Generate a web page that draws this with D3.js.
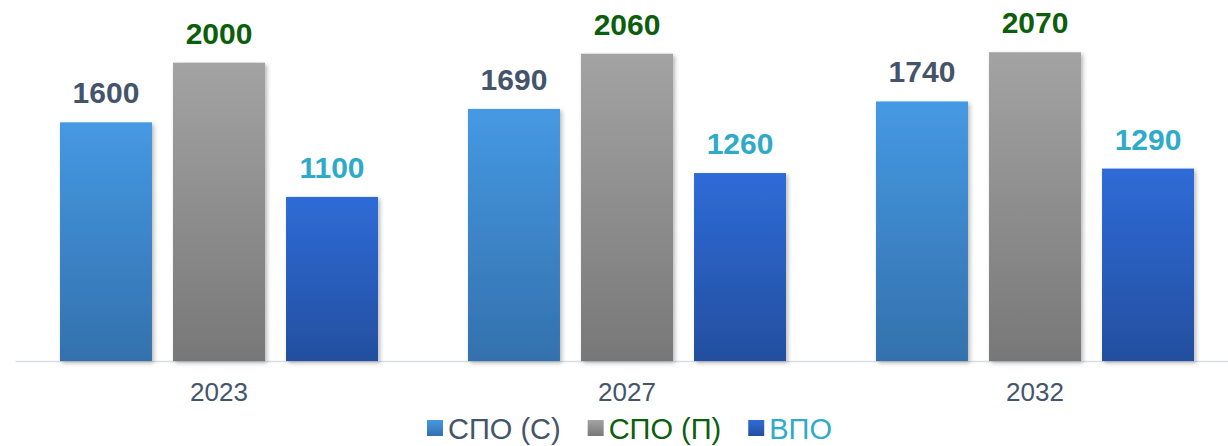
<!DOCTYPE html>
<html>
<head>
<meta charset="utf-8">
<script src="https://cdn.jsdelivr.net/npm/d3@7"></script>
<style>
    body { margin: 0; background: #fff; }
    #chart { width: 1228px; height: 446px; }
    text { font-family: "Liberation Sans", Arial, sans-serif; }
</style>
</head>
<body>
<div id="chart"></div>
<script>
// Data
const years = ["2023", "2027", "2032"];
const seriesNames = ["СПО (С)", "СПО (П)", "ВПО"];
const spoC = [1600, 1690, 1740];
const spoP = [2000, 2060, 2070];
const vpo = [1100, 1260, 1290];

// Styles
const gradients = [
    ["#4599e3", "#3371ad"],
    ["#a3a3a3", "#787878"],
    ["#2f6bd7", "#234f9f"]
];
const labelColors = ["#44546a", "#0b5e0b", "#2faac8"];

const width = 1228, height = 446;
const margin = { top: 3, right: -11, bottom: 85, left: 15 };

const svg = d3.select("#chart").append("svg")
    .attr("width", width)
    .attr("height", height);

const defs = svg.append("defs");
gradients.forEach((g, i) => {
    const lg = defs.append("linearGradient")
        .attr("id", "grad" + i)
        .attr("x1", 0).attr("y1", 0).attr("x2", 0).attr("y2", 1);
    lg.append("stop").attr("offset", "0%").attr("stop-color", g[0]);
    lg.append("stop").attr("offset", "100%").attr("stop-color", g[1]);
});
defs.append("filter")
    .attr("id", "shadow")
    .attr("x", "-10%").attr("y", "-10%").attr("width", "130%").attr("height", "130%")
    .append("feDropShadow")
    .attr("dx", 2).attr("dy", 2)
    .attr("stdDeviation", 2)
    .attr("flood-color", "#000")
    .attr("flood-opacity", 0.28);

const data = years.map((y, i) => ({
    year: y,
    values: [spoC[i], spoP[i], vpo[i]].map((v, k) => ({ key: k, value: v }))
}));

const x0 = d3.scaleBand()
    .domain(years)
    .range([margin.left, width - margin.right]);

const x1 = d3.scaleBand()
    .domain(d3.range(seriesNames.length))
    .range([0, x0.bandwidth()])
    .paddingInner(0.186)
    .paddingOuter(0.398);

const y = d3.scaleLinear()
    .domain([0, 2400])
    .range([height - margin.bottom, margin.top]);

// Axis line
svg.append("g")
    .attr("transform", `translate(0,${y(0)})`)
    .call(d3.axisBottom(x0).tickSize(0).tickPadding(22))
    .call(g => g.select(".domain").attr("stroke", "#d9dde4").attr("stroke-width", 1.5))
    .call(g => g.selectAll("text")
        .attr("fill", "#44546a")
        .attr("font-size", 26)
        .attr("font-family", "'Liberation Sans', Arial, sans-serif"));

const groups = svg.append("g")
    .selectAll("g")
    .data(data)
    .join("g")
    .attr("transform", d => `translate(${x0(d.year)},0)`);

groups.selectAll("rect")
    .data(d => d.values)
    .join("rect")
    .attr("x", d => x1(d.key))
    .attr("y", d => y(d.value))
    .attr("width", x1.bandwidth())
    .attr("height", d => y(0) - y(d.value))
    .attr("fill", d => `url(#grad${d.key})`)
    .attr("filter", "url(#shadow)");

groups.selectAll("text.val")
    .data(d => d.values)
    .join("text")
    .attr("class", "val")
    .attr("x", d => x1(d.key) + x1.bandwidth() / 2)
    .attr("y", d => y(d.value) - 19)
    .attr("text-anchor", "middle")
    .attr("font-size", 30)
    .attr("font-weight", "bold")
    .attr("fill", d => labelColors[d.key])
    .text(d => d.value);

// Legend
const legend = svg.append("g").attr("transform", "translate(427,0)");
let lx = 0;
seriesNames.forEach((name, i) => {
    const item = legend.append("g").attr("transform", `translate(${lx},0)`);
    item.append("rect")
        .attr("x", 0).attr("y", 420)
        .attr("width", 16).attr("height", 16)
        .attr("fill", `url(#grad${i})`);
    const t = item.append("text")
        .attr("x", 21).attr("y", 439)
        .attr("font-size", 29)
        .attr("fill", labelColors[i])
        .text(name);
    lx += 21 + t.node().getComputedTextLength() + 27;
});
</script>
</body>
</html>
